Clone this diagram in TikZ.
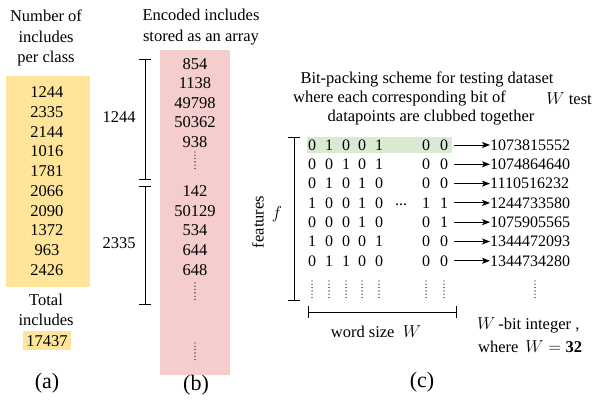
\documentclass[tikz,border=0pt]{standalone}
\usepackage{fontspec}
\setmainfont{Liberation Serif}
\usetikzlibrary{arrows.meta}
\definecolor{ybox}{HTML}{FFE59A}
\definecolor{pbox}{HTML}{F6CDCD}
\definecolor{gband}{HTML}{D9EAD3}
\begin{document}
\begin{tikzpicture}[x=1pt,y=-1pt,
  txt/.style={font=\rmfamily\fontsize{16.5}{20.5}\selectfont, inner sep=0pt, align=center},
  bit/.style={font=\rmfamily\fontsize{16}{19}\selectfont, inner sep=0pt},
  sublabel/.style={font=\rmfamily\fontsize{22}{26}\selectfont, inner sep=0pt},
  brk/.style={line width=1pt},
  dotcol/.style={line width=1.3pt, dash pattern=on 0pt off 3.3pt, line cap=round},
  conn/.style={line width=0.9pt, -{Stealth[length=8pt,width=6pt,inset=2pt]}}]
\useasboundingbox (0,0) rectangle (595,403);

% ---- (a) includes per class ----
\node[txt] (atitle) at (46,38) {Number of\\includes\\per class};
\fill[ybox] (6,76) rectangle (90,287);
\foreach \v [count=\i] in {1244,2335,2144,1016,1781,2066,2090,1372,963,2426}
  \node[txt] (a\i) at (47,{92+19.8*(\i-1)}) {\v};
\node[txt] (atotal) at (46,310) {Total\\includes};
\fill[ybox] (23,331) rectangle (71,350.5);
\node[txt] (asum) at (47,341) {17437};
\node[sublabel] (alab) at (47,383) {(a)};

% ---- (b) encoded includes array ----
\node[txt] (btitle) at (201,27) {Encoded includes\\stored as an array};
\fill[pbox] (160,50) rectangle (230,375);
\foreach \v/\y [count=\i] in {854/64,1138/83.5,49798/103,50362/122.5,938/142,
                              142/191,50129/211,534/230.5,644/250,648/270}
  \node[txt] (b\i) at (195,\y) {\v};
\draw[dotcol] (195,152) -- (195,169);
\draw[dotcol] (195,283) -- (195,300);
\draw[dotcol] (195,343) -- (195,360);
% class extents
\draw[brk] (139,60) -- (151,60) (145,60) -- (145,180) (139,180) -- (151,180);
\draw[brk] (139,187) -- (151,187) (145,187) -- (145,305) (139,305) -- (151,305);
\node[txt] (bc1) at (119,117) {1244};
\node[txt] (bc2) at (119,243) {2335};
\node[sublabel] (blab) at (196,385) {(b)};

% ---- (c) bit-packing of the testing dataset ----
\node[txt] (ct1) at (427,79) {Bit-packing scheme for testing dataset};
\node[txt, anchor=west] (ct2a) at (293,98.5) {where each corresponding bit of};
\node[txt, anchor=east] (ct2b) at (592,98.5) {$W$ test};
\node[txt] (ct3) at (431,117.5) {datapoints are clubbed together};

\fill[gband] (307,137) rectangle (452,153);
\foreach \num/\xa/\xb/\xc/\xd/\xe/\xq/\xr [count=\i] in {
    1073815552/0/1/0/0/1/0/0,
    1074864640/0/0/1/0/1/0/0,
    1110516232/0/1/0/1/0/0/0,
    1244733580/1/0/0/1/0/1/1,
    1075905565/0/0/0/1/0/0/1,
    1344472093/1/0/0/0/1/0/0,
    1344734280/0/1/1/0/0/0/0} {
  \pgfmathsetmacro{\ry}{145+19.3*(\i-1)}
  \node[bit] (m\i-1) at (312,\ry) {\xa};
  \node[bit] (m\i-2) at (329,\ry) {\xb};
  \node[bit] (m\i-3) at (346,\ry) {\xc};
  \node[bit] (m\i-4) at (362,\ry) {\xd};
  \node[bit] (m\i-5) at (379,\ry) {\xe};
  \node[bit] (m\i-6) at (426,\ry) {\xq};
  \node[bit] (m\i-7) at (444,\ry) {\xr};
  \node[bit, anchor=west] (n\i) at (490,\ry) {\num};
  \draw[conn] ([xshift=6pt]m\i-7.east) -- (n\i.west);
}
\node[bit] (cdots) at (401,205) {...};
\foreach \cx in {312,329,346,362,379,426,444,535}
  \draw[dotcol] (\cx,281) -- (\cx,298);

% features extent
\draw[brk] (288,138) -- (300,138) (294,138) -- (294,300.5) (288,300.5) -- (300,300.5);
\node[txt, rotate=90] (feat) at (258,222) {features};
\node[txt] (fsym) at (277,214) {$f$};
% word-size extent
\draw[brk] (308,306.5) -- (308,318.5) (308,312.5) -- (456.5,312.5) (456.5,306.5) -- (456.5,318.5);
\node[txt] (wsize) at (376,332) {word size \ $W$};
\node[txt, anchor=west] (wbit) at (477,325) {$W$\,-bit integer ,};
\node[txt, anchor=west] (wdef) at (478,347) {where \,$W = \mathbf{32}$};
\node[sublabel] (clab) at (422,382) {(c)};
\end{tikzpicture}
\end{document}
